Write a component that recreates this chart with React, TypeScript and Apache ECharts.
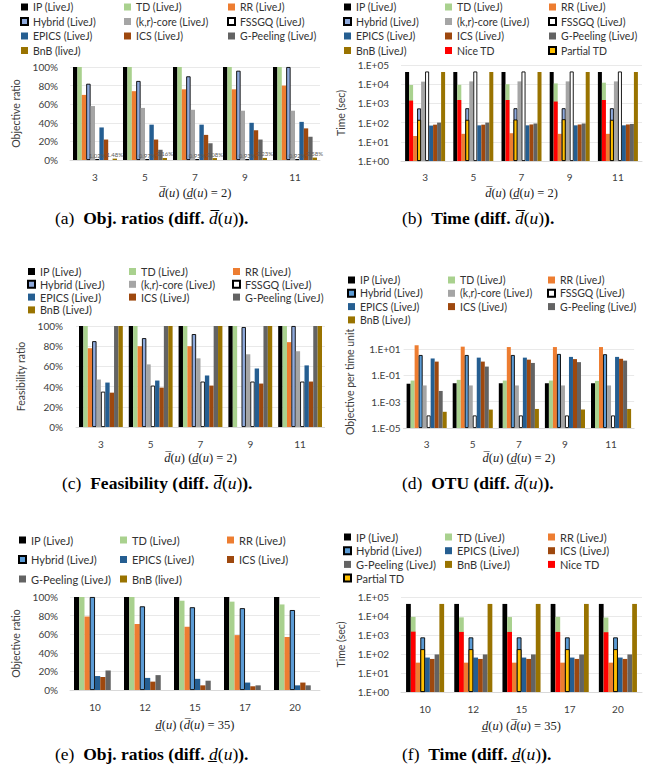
import React, { useEffect, useRef } from 'react';
import * as echarts from 'echarts';

// ---------- categories ----------
const CATS_DMAX = ['3', '5', '7', '9', '11'];
const CATS_DMIN = ['10', '12', '15', '17', '20'];

// ---------- (a) objective ratios, diff. d̄(u) ----------
const A_IP = [100, 100, 100, 100, 100];
const A_TD = [100, 100, 100, 100, 100];
const A_RR = [70, 74, 76, 76, 80];
const A_HYBRID = [82, 85, 90, 96, 100];
const A_KR = [58, 56, 54, 53, 53];
const A_FSSGQ = [1.02, 0.97, 0.95, 0.93, 0.92];
const A_EPICS = [35, 38, 38, 40, 41];
const A_ICS = [22, 22, 27, 32, 34];
const A_GP = [0, 11, 18, 22, 25];
const A_BNB = [1.48, 2.16, 2.08, 2.23, 2.58];

// ---------- (b) time, diff. d̄(u) ----------
const B_IP = [43200, 43200, 43200, 43200, 43200];
const B_TD = [9100, 9300, 10000, 11000, 12000];
const B_RR = [20, 26, 28, 26, 26];
const B_HYBRID = [550, 560, 560, 560, 560];
const B_KR = [13600, 14000, 14000, 14000, 14000];
const B_FSSGQ = [46000, 46000, 46000, 46000, 46000];
const B_EPICS = [70, 72, 72, 72, 72];
const B_ICS = [78, 78, 80, 80, 80];
const B_GP = [100, 100, 90, 90, 85];
const B_BNB = [43200, 43200, 43200, 43200, 43200];
const B_NICE = [1400, 1500, 1500, 1250, 1500];
const B_PARTIAL = [140, 140, 145, 150, 140];

// ---------- (c) feasibility, diff. d̄(u) ----------
const C_IP = [100, 100, 100, 100, 100];
const C_TD = [100, 100, 100, 100, 100];
const C_RR = [78, 80, 80, 0, 84];
const C_HYBRID = [85, 88, 92, 99, 100];
const C_KR = [47, 62, 68, 72, 75];
const C_FSSGQ = [35, 41, 45, 45, 45];
const C_EPICS = [44, 46, 51, 58, 61];
const C_ICS = [34, 39, 41, 43, 45];
const C_GP = [100, 100, 100, 100, 100];
const C_BNB = [100, 100, 100, 100, 100];

// ---------- (d) objective per time unit, diff. d̄(u) ----------
const D_IP = [0.023, 0.025, 0.025, 0.025, 0.025];
const D_TD = [0.04, 0.045, 0.04, 0.04, 0.038];
const D_RR = [19, 15, 14, 14, 14];
const D_HYBRID = [3.5, 3.5, 3.5, 4.2, 4.0];
const D_KR = [0.017, 0.017, 0.017, 0.017, 0.017];
const D_FSSGQ = [0.00009, 0.00009, 0.00009, 0.00009, 0.00009];
const D_EPICS = [1.9, 2.2, 2.2, 2.5, 2.5];
const D_ICS = [1.1, 1.1, 1.55, 1.7, 1.8];
const D_GP = [0.0065, 0.46, 0.87, 1.0, 1.3];
const D_BNB = [0.00017, 0.00025, 0.00028, 0.00025, 0.00028];

// ---------- (e) objective ratios, diff. d̲(u) ----------
const E_IP = [100, 100, 100, 100, 100];
const E_TD = [100, 100, 96, 95, 92];
const E_RR = [79, 71, 68, 59, 57];
const E_HYBRID = [100, 90, 89, 88, 86];
const E_EPICS = [15, 13, 12, 8, 5];
const E_ICS = [14, 9, 5, 4, 8];
const E_GP = [21, 16, 10, 5, 5];
const E_BNB = [0, 0, 0, 0, 0];

// ---------- (f) time, diff. d̲(u) ----------
const F_IP = [43200, 43200, 43200, 43200, 43200];
const F_TD = [9000, 8500, 8800, 9000, 8300];
const F_RR = [35, 35, 35, 35, 35];
const F_HYBRID = [750, 750, 750, 750, 750];
const F_EPICS = [65, 65, 65, 65, 65];
const F_ICS = [55, 55, 55, 55, 55];
const F_GP = [95, 95, 95, 95, 95];
const F_BNB = [43200, 43200, 43200, 43200, 43200];
const F_NICE = [1500, 1450, 1450, 1450, 1400];
const F_PARTIAL = [180, 180, 180, 180, 180];

// ---------- axis ticks ----------
const PCT_TICKS = [0, 20, 40, 60, 80, 100];
const TIME_TICKS = [1, 10, 100, 1000, 10000, 100000];
const OTU_TICKS = [1e-5, 1e-3, 1e-1, 1e1];

// ---------- colours ----------
const COL = {
  IP: '#000000', TD: '#a9d18e', RR: '#ed7d31', HYB1: '#8faadc', HYB2: '#5b9bd5',
  KR: '#a5a5a5', FSSGQ: '#ffffff', EPICS: '#255e91', ICS: '#9e480e', GP: '#636363',
  BNB: '#997300', NICE: '#ff0000', PART: '#ffc000',
};
const SANS = 'Lato';
const SERIF = 'Liberation Serif';
const OVL = 'd\u0305';
const UNL = 'd\u0332';
const CAP_FONT = 17.5;

function bar(name: string, data: any[], color: string, opt: any = {}) {
  const s: any = {
    type: 'bar', name, data,
    barGap: '0%', barCategoryGap: opt.gap,
    itemStyle: opt.border
      ? { color, borderColor: '#000', borderWidth: 0.9 }
      : { color },
  };
  if (opt.label) s.label = opt.label;
  return s;
}

function logFmt(ticks: number[]) {
  return (v: number) => {
    const e = Math.log10(v);
    const r = Math.round(e);
    if (Math.abs(e - r) > 1e-6) return '';
    if (!ticks.some((t) => Math.round(Math.log10(t)) === r)) return '';
    return '1.E' + (r < 0 ? '-' : '+') + String(Math.abs(r)).padStart(2, '0');
  };
}

function legends(cols: { x: number; names: string[] }[], top: number, lh: number, rowGap: number, font: number) {
  return cols.map((c) => ({
    orient: 'vertical', left: c.x, top, padding: 0,
    itemGap: rowGap - lh, itemWidth: 7, itemHeight: 7, icon: 'rect',
    selectedMode: false, data: c.names,
    textStyle: { fontFamily: SANS, fontSize: font, lineHeight: lh, color: '#333333' },
  }));
}

function xName(first: string, second: string, val: string) {
  return `{i|${first}}{n|(}{i|u}{n|) (}{i|${second}}{n|(}{i|u}{n|) = ${val})}`;
}

const X_NAME_STYLE = {
  fontFamily: SERIF, fontSize: 12.5, color: '#222222',
  rich: {
    i: { fontFamily: SERIF, fontStyle: 'italic', fontSize: 12.5, color: '#222222' },
    n: { fontFamily: SERIF, fontSize: 12.5, color: '#222222' },
  },
};

function xAxis(cats: string[], name: string, labelMargin: number, nameGap: number) {
  return {
    type: 'category', data: cats,
    axisTick: { show: false },
    axisLine: { lineStyle: { color: '#d9d9d9' } },
    axisLabel: { fontFamily: SANS, fontSize: 10, color: '#404040', margin: labelMargin },
    name, nameLocation: 'middle', nameGap, nameTextStyle: X_NAME_STYLE,
  };
}

function hiddenX(cats: string[]) {
  return { type: 'category', data: cats, show: false };
}

function yName(name: string, gap: number) {
  return {
    name, nameLocation: 'middle', nameRotate: 90, nameGap: gap,
    nameTextStyle: { fontFamily: SANS, fontSize: 10.5, color: '#404040' },
  };
}

function pctY(name: string, margin: number, gap: number) {
  return {
    type: 'value', min: PCT_TICKS[0], max: PCT_TICKS[PCT_TICKS.length - 1],
    interval: PCT_TICKS[1] - PCT_TICKS[0],
    axisLabel: { formatter: '{value}%', fontFamily: SANS, fontSize: 10, color: '#404040', margin },
    splitLine: { lineStyle: { color: '#e3e3e3', width: 0.8 } },
    axisLine: { show: false }, axisTick: { show: false },
    ...yName(name, gap),
  };
}

function timeY(name: string, margin: number, gap: number) {
  return {
    type: 'log', logBase: 10, min: TIME_TICKS[0], max: TIME_TICKS[TIME_TICKS.length - 1],
    axisLabel: { formatter: logFmt(TIME_TICKS), fontFamily: SANS, fontSize: 10, color: '#404040', margin },
    splitLine: { lineStyle: { color: '#e3e3e3', width: 0.8 } },
    axisLine: { show: false }, axisTick: { show: false },
    ...yName(name, gap),
  };
}

function caption(label: string, title: string, dm: string, left: number, top: number) {
  return {
    type: 'text', left, top,
    style: {
      text: `{r|${label}}{r|  }{b|${title}}{i|${dm}}{r|(}{i|u}{r|)}{b|).}`,
      rich: {
        r: { fontFamily: SERIF, fontSize: CAP_FONT, fill: '#000' },
        b: { fontFamily: SERIF, fontSize: CAP_FONT, fontWeight: 'bold', fill: '#000' },
        i: { fontFamily: SERIF, fontSize: CAP_FONT, fontStyle: 'italic', fill: '#000' },
      },
    },
  };
}

const N = {
  IP: 'IP (LiveJ)', TD: 'TD (LiveJ)', RR: 'RR (LiveJ)', HYB: 'Hybrid (LiveJ)',
  KR: '(k,r)-core (LiveJ)', FSSGQ: 'FSSGQ (LiveJ)', EPICS: 'EPICS (LiveJ)',
  ICS: 'ICS (LiveJ)', GP: 'G-Peeling (LiveJ)', BNB: 'BnB (LiveJ)', BNBl: 'BnB (liveJ)',
  NICE: 'Nice TD', PART: 'Partial TD',
};

function smallLabel() {
  return {
    show: true, position: 'top', distance: 1, fontFamily: SANS, fontSize: 6,
    color: '#595959', formatter: (p: any) => (p.value > 0 ? p.value.toFixed(2) + '%' : ''),
  };
}

// overlay series on hidden axis (slot positions identical to main axis)
function overlay(total: number, slots: Record<number, any>, gap: string, cats: string[]) {
  const out: any[] = [];
  for (let i = 0; i < total; i++) {
    if (slots[i]) out.push({ ...slots[i], xAxisIndex: 1, barGap: '0%', barCategoryGap: gap, z: 3 });
    else out.push({ type: 'bar', name: '_slot' + i, xAxisIndex: 1, data: cats.map(() => '-'), barGap: '0%', barCategoryGap: gap });
  }
  return out;
}

// ---------- options ----------
const gA = '12%';
const optA = {
  animation: false,
  legend: legends([
    { x: 20, names: [N.IP, N.HYB, N.EPICS, N.BNBl] },
    { x: 124, names: [N.TD, N.KR, N.ICS] },
    { x: 227, names: [N.RR, N.FSSGQ, N.GP] },
  ], 1, 12, 14.5, 10.5),
  grid: { left: 70, top: 67, width: 250, height: 93 },
  xAxis: xAxis(CATS_DMAX, xName(OVL, UNL, '2'), 12, 26),
  yAxis: pctY('Objective ratio', 12, 32),
  series: [
    bar(N.IP, A_IP, COL.IP, { gap: gA }),
    bar(N.TD, A_TD, COL.TD, { gap: gA }),
    bar(N.RR, A_RR, COL.RR, { gap: gA }),
    bar(N.HYB, A_HYBRID, COL.HYB1, { gap: gA, border: true }),
    bar(N.KR, A_KR, COL.KR, { gap: gA }),
    bar(N.FSSGQ, A_FSSGQ, COL.FSSGQ, { gap: gA, border: true, label: smallLabel() }),
    bar(N.EPICS, A_EPICS, COL.EPICS, { gap: gA }),
    bar(N.ICS, A_ICS, COL.ICS, { gap: gA }),
    bar(N.GP, A_GP, COL.GP, { gap: gA }),
    bar(N.BNBl, A_BNB, COL.BNB, { gap: gA, label: smallLabel() }),
  ],
  graphic: [caption('(a)', 'Obj. ratios (diff. ', OVL, 55, 209)],
};

const gB = '17%';
const optB = {
  animation: false,
  legend: legends([
    { x: 18, names: [N.IP, N.HYB, N.EPICS, N.BNB] },
    { x: 120, names: [N.TD, N.KR, N.ICS, N.NICE] },
    { x: 223, names: [N.RR, N.FSSGQ, N.GP, N.PART] },
  ], 1, 12, 14.5, 10.5),
  grid: { left: 76, top: 65, width: 241, height: 96 },
  xAxis: [xAxis(CATS_DMAX, xName(OVL, UNL, '2'), 11, 25), hiddenX(CATS_DMAX)],
  yAxis: timeY('Time (sec)', 12, 54),
  series: [
    bar(N.IP, B_IP, COL.IP, { gap: gB }),
    bar(N.TD, B_TD, COL.TD, { gap: gB }),
    bar(N.RR, B_RR, COL.RR, { gap: gB }),
    bar(N.HYB, B_HYBRID, COL.HYB1, { gap: gB, border: true }),
    bar(N.KR, B_KR, COL.KR, { gap: gB }),
    bar(N.FSSGQ, B_FSSGQ, COL.FSSGQ, { gap: gB, border: true }),
    bar(N.EPICS, B_EPICS, COL.EPICS, { gap: gB }),
    bar(N.ICS, B_ICS, COL.ICS, { gap: gB }),
    bar(N.GP, B_GP, COL.GP, { gap: gB }),
    bar(N.BNB, B_BNB, COL.BNB, { gap: gB }),
    ...overlay(10, {
      1: bar(N.NICE, B_NICE, COL.NICE, { gap: gB }),
      3: bar(N.PART, B_PARTIAL, COL.PART, { gap: gB, border: true }),
    }, gB, CATS_DMAX),
  ],
  graphic: [caption('(b)', 'Time (diff. ', OVL, 77, 209)],
};

const gC = '12%';
const optC = {
  animation: false,
  legend: legends([
    { x: 27, names: [N.IP, N.HYB, N.EPICS, N.BNB] },
    { x: 129, names: [N.TD, N.KR, N.ICS] },
    { x: 232, names: [N.RR, N.FSSGQ, N.GP] },
  ], 16, 11, 12.8, 10.8),
  grid: { left: 76, top: 76, width: 249, height: 101 },
  xAxis: xAxis(CATS_DMAX, xName(OVL, UNL, '2'), 12, 24),
  yAxis: pctY('Feasibility ratio', 13, 30),
  series: [
    bar(N.IP, C_IP, COL.IP, { gap: gC }),
    bar(N.TD, C_TD, COL.TD, { gap: gC }),
    bar(N.RR, C_RR, COL.RR, { gap: gC }),
    bar(N.HYB, C_HYBRID, COL.HYB1, { gap: gC, border: true }),
    bar(N.KR, C_KR, COL.KR, { gap: gC }),
    bar(N.FSSGQ, C_FSSGQ, COL.FSSGQ, { gap: gC, border: true }),
    bar(N.EPICS, C_EPICS, COL.EPICS, { gap: gC }),
    bar(N.ICS, C_ICS, COL.ICS, { gap: gC }),
    bar(N.GP, C_GP, COL.GP, { gap: gC }),
    bar(N.BNB, C_BNB, COL.BNB, { gap: gC }),
  ],
  graphic: [caption('(c)', 'Feasibility (diff. ', OVL, 62, 224)],
};

const gD = '13%';
const optD = {
  animation: false,
  legend: legends([
    { x: 22, names: [N.IP, N.HYB, N.EPICS, N.BNB] },
    { x: 123, names: [N.TD, N.KR, N.ICS] },
    { x: 222, names: [N.RR, N.FSSGQ, N.GP] },
  ], 24.5, 11, 13.3, 10.5),
  grid: { left: 78.6, top: 85.8, width: 230.5, height: 92.2 },
  xAxis: xAxis(CATS_DMAX, xName(OVL, UNL, '2'), 11, 23),
  yAxis: {
    type: 'log', logBase: 10, min: OTU_TICKS[0], max: 100, startValue: OTU_TICKS[0],
    axisLabel: { formatter: logFmt(OTU_TICKS), fontFamily: SANS, fontSize: 10, color: '#404040', margin: 3 },
    splitLine: { lineStyle: { color: ['#e3e3e3', 'rgba(0,0,0,0)'], width: 0.8 } },
    axisLine: { show: false }, axisTick: { show: false },
    ...yName('Objective per time unit', 48),
  },
  series: [
    bar(N.IP, D_IP, COL.IP, { gap: gD }),
    bar(N.TD, D_TD, COL.TD, { gap: gD }),
    bar(N.RR, D_RR, COL.RR, { gap: gD }),
    bar(N.HYB, D_HYBRID, COL.HYB2, { gap: gD, border: true }),
    bar(N.KR, D_KR, COL.KR, { gap: gD }),
    bar(N.FSSGQ, D_FSSGQ, COL.FSSGQ, { gap: gD, border: true }),
    bar(N.EPICS, D_EPICS, COL.EPICS, { gap: gD }),
    bar(N.ICS, D_ICS, COL.ICS, { gap: gD }),
    bar(N.GP, D_GP, COL.GP, { gap: gD }),
    bar(N.BNB, D_BNB, COL.BNB, { gap: gD }),
  ],
  graphic: [caption('(d)', 'OTU (diff. ', OVL, 77, 224)],
};

const gE = '16%';
const optE = {
  animation: false,
  legend: legends([
    { x: 18, names: [N.IP, N.HYB, N.GP] },
    { x: 120, names: [N.TD, N.EPICS, N.BNBl] },
    { x: 227, names: [N.RR, N.ICS] },
  ], 24, 12, 19.5, 11),
  grid: { left: 70, top: 87, width: 250, height: 93 },
  xAxis: xAxis(CATS_DMIN, xName(UNL, OVL, '35'), 12, 28),
  yAxis: pctY('Objective ratio', 12, 32),
  series: [
    bar(N.IP, E_IP, COL.IP, { gap: gE }),
    bar(N.TD, E_TD, COL.TD, { gap: gE }),
    bar(N.RR, E_RR, COL.RR, { gap: gE }),
    bar(N.HYB, E_HYBRID, COL.HYB2, { gap: gE, border: true }),
    bar(N.EPICS, E_EPICS, COL.EPICS, { gap: gE }),
    bar(N.ICS, E_ICS, COL.ICS, { gap: gE }),
    bar(N.GP, E_GP, COL.GP, { gap: gE }),
    bar(N.BNBl, E_BNB, COL.BNB, { gap: gE }),
  ],
  graphic: [caption('(e)', 'Obj. ratios (diff. ', UNL, 55, 235)],
};

const gF = '21%';
const optF = {
  animation: false,
  legend: legends([
    { x: 18, names: [N.IP, N.HYB, N.GP, N.PART] },
    { x: 120, names: [N.TD, N.EPICS, N.BNB] },
    { x: 223, names: [N.RR, N.ICS, N.NICE] },
  ], 21.5, 11, 13.7, 11),
  grid: { left: 76, top: 87, width: 241, height: 95 },
  xAxis: [xAxis(CATS_DMIN, xName(UNL, OVL, '35'), 12, 27), hiddenX(CATS_DMIN)],
  yAxis: timeY('Time (sec)', 12, 52),
  series: [
    bar(N.IP, F_IP, COL.IP, { gap: gF }),
    bar(N.TD, F_TD, COL.TD, { gap: gF }),
    bar(N.RR, F_RR, COL.RR, { gap: gF }),
    bar(N.HYB, F_HYBRID, COL.HYB2, { gap: gF, border: true }),
    bar(N.EPICS, F_EPICS, COL.EPICS, { gap: gF }),
    bar(N.ICS, F_ICS, COL.ICS, { gap: gF }),
    bar(N.GP, F_GP, COL.GP, { gap: gF }),
    bar(N.BNB, F_BNB, COL.BNB, { gap: gF }),
    ...overlay(8, {
      1: bar(N.NICE, F_NICE, COL.NICE, { gap: gF }),
      3: bar(N.PART, F_PARTIAL, COL.PART, { gap: gF, border: true }),
    }, gF, CATS_DMIN),
  ],
  graphic: [caption('(f)', 'Time (diff. ', UNL, 77, 235)],
};

function Panel({ box, option }: { box: number[]; option: any }) {
  const ref = useRef<HTMLDivElement>(null);
  useEffect(() => {
    if (!ref.current) return;
    const chart = echarts.init(ref.current, null, { renderer: 'svg' });
    chart.setOption(option);
    return () => chart.dispose();
  }, [option]);
  return (
    <div
      ref={ref}
      style={{ position: 'absolute', left: box[0], top: box[1], width: box[2], height: box[3] }}
    />
  );
}

export default function App() {
  useEffect(() => {
    document.body.style.margin = '0';
    document.body.style.background = '#ffffff';
  }, []);
  return (
    <div style={{ position: 'relative', width: 650, height: 771, background: '#ffffff', overflow: 'hidden' }}>
      <Panel box={[0, 0, 325, 250]} option={optA} />
      <Panel box={[325, 0, 325, 250]} option={optB} />
      <Panel box={[0, 250, 325, 260]} option={optC} />
      <Panel box={[325, 250, 325, 260]} option={optD} />
      <Panel box={[0, 510, 325, 261]} option={optE} />
      <Panel box={[325, 510, 325, 261]} option={optF} />
    </div>
  );
}
